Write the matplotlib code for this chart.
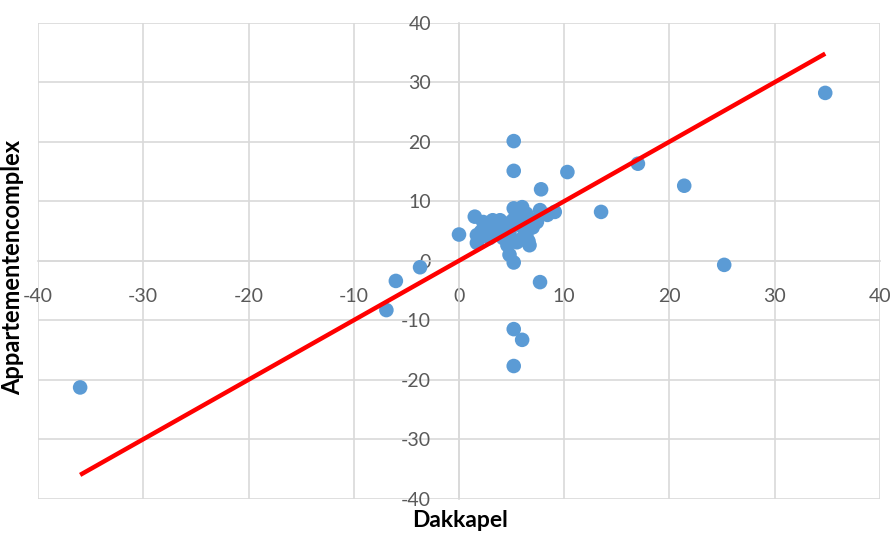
import matplotlib
matplotlib.use("Agg")
import matplotlib.pyplot as plt

plt.rcParams["axes.unicode_minus"] = False

# Dakkapel (x) vs Appartementencomplex (y)
outliers_x = [-36.0, -6.9, -6.0, -3.7, 0.0, 1.5, 5.2, 5.2, 10.3, 7.8, 17.0, 21.4,
              13.5, 9.1, 25.2, 34.8, 7.7, 5.2, 4.8, 5.2, 6.0, 5.2]
outliers_y = [-21.3, -8.3, -3.4, -1.1, 4.4, 7.4, 20.1, 15.1, 14.9, 12.0, 16.3, 12.6,
              8.2, 8.2, -0.7, 28.2, -3.6, -0.3, 1.0, -11.5, -13.3, -17.7]
cluster_x = [5.2, 6.0, 5.5, 6.4, 7.7, 3.2, 3.9, 2.3, 1.7, 1.7, 6.7, 6.4, 5.8, 7.4,
             8.4, 2.9, 4.2, 4.8, 5.5, 3.9, 5.0, 6.2, 4.5, 3.5, 2.6, 7.0, 5.9, 4.0,
             6.6, 3.0, 5.3, 6.9, 2.1, 4.6]
cluster_y = [8.8, 9.0, 8.0, 7.9, 8.5, 6.8, 6.8, 6.5, 4.3, 3.0, 2.6, 4.3, 6.0, 6.5,
             7.7, 3.8, 3.8, 4.8, 3.1, 5.5, 6.6, 5.2, 5.9, 4.6, 5.2, 5.6, 3.6, 4.2,
             3.3, 5.7, 7.2, 6.9, 4.9, 2.6]
line_x = [-36.0, 34.8]

fig = plt.figure(figsize=(8.93, 5.34), dpi=100)
ax = fig.add_axes([0.0426, 0.0661, 0.9428, 0.8914])

ax.scatter(outliers_x + cluster_x, outliers_y + cluster_y, s=110, color="#5B9BD5",
           edgecolors="none", zorder=3)
ax.plot(line_x, line_x, color="#FF0000", lw=3.2, solid_capstyle="butt", zorder=4)

ax.set_xlim(-40, 40)
ax.set_ylim(-40, 40)
ax.set_xticks(range(-40, 41, 10))
ax.set_yticks(range(-40, 41, 10))
ax.grid(True, color="#D9D9D9", lw=1.2, zorder=0)
ax.set_axisbelow(True)

for side in ("top", "right"):
    ax.spines[side].set_visible(False)
ax.spines["left"].set_position("zero")
ax.spines["bottom"].set_position("zero")
for side in ("left", "bottom"):
    ax.spines[side].set_color("#D9D9D9")
    ax.spines[side].set_linewidth(1.2)

ax.tick_params(axis="both", length=0, labelsize=14, labelcolor="#595959")
ax.tick_params(axis="x", pad=20)
ax.tick_params(axis="y", pad=20)
for lab in ax.get_xticklabels() + ax.get_yticklabels():
    lab.set_family("Lato")
    lab.set_clip_on(False)

fig.text(0.515, 0.025, "Dakkapel", ha="center", va="center", fontsize=16.5,
         fontweight="bold", family="Lato")
fig.text(0.014, 0.5, "Appartementencomplex", ha="center", va="center", fontsize=17,
         fontweight="bold", rotation=90, family="Lato")

fig.savefig("out.png", dpi=100)
